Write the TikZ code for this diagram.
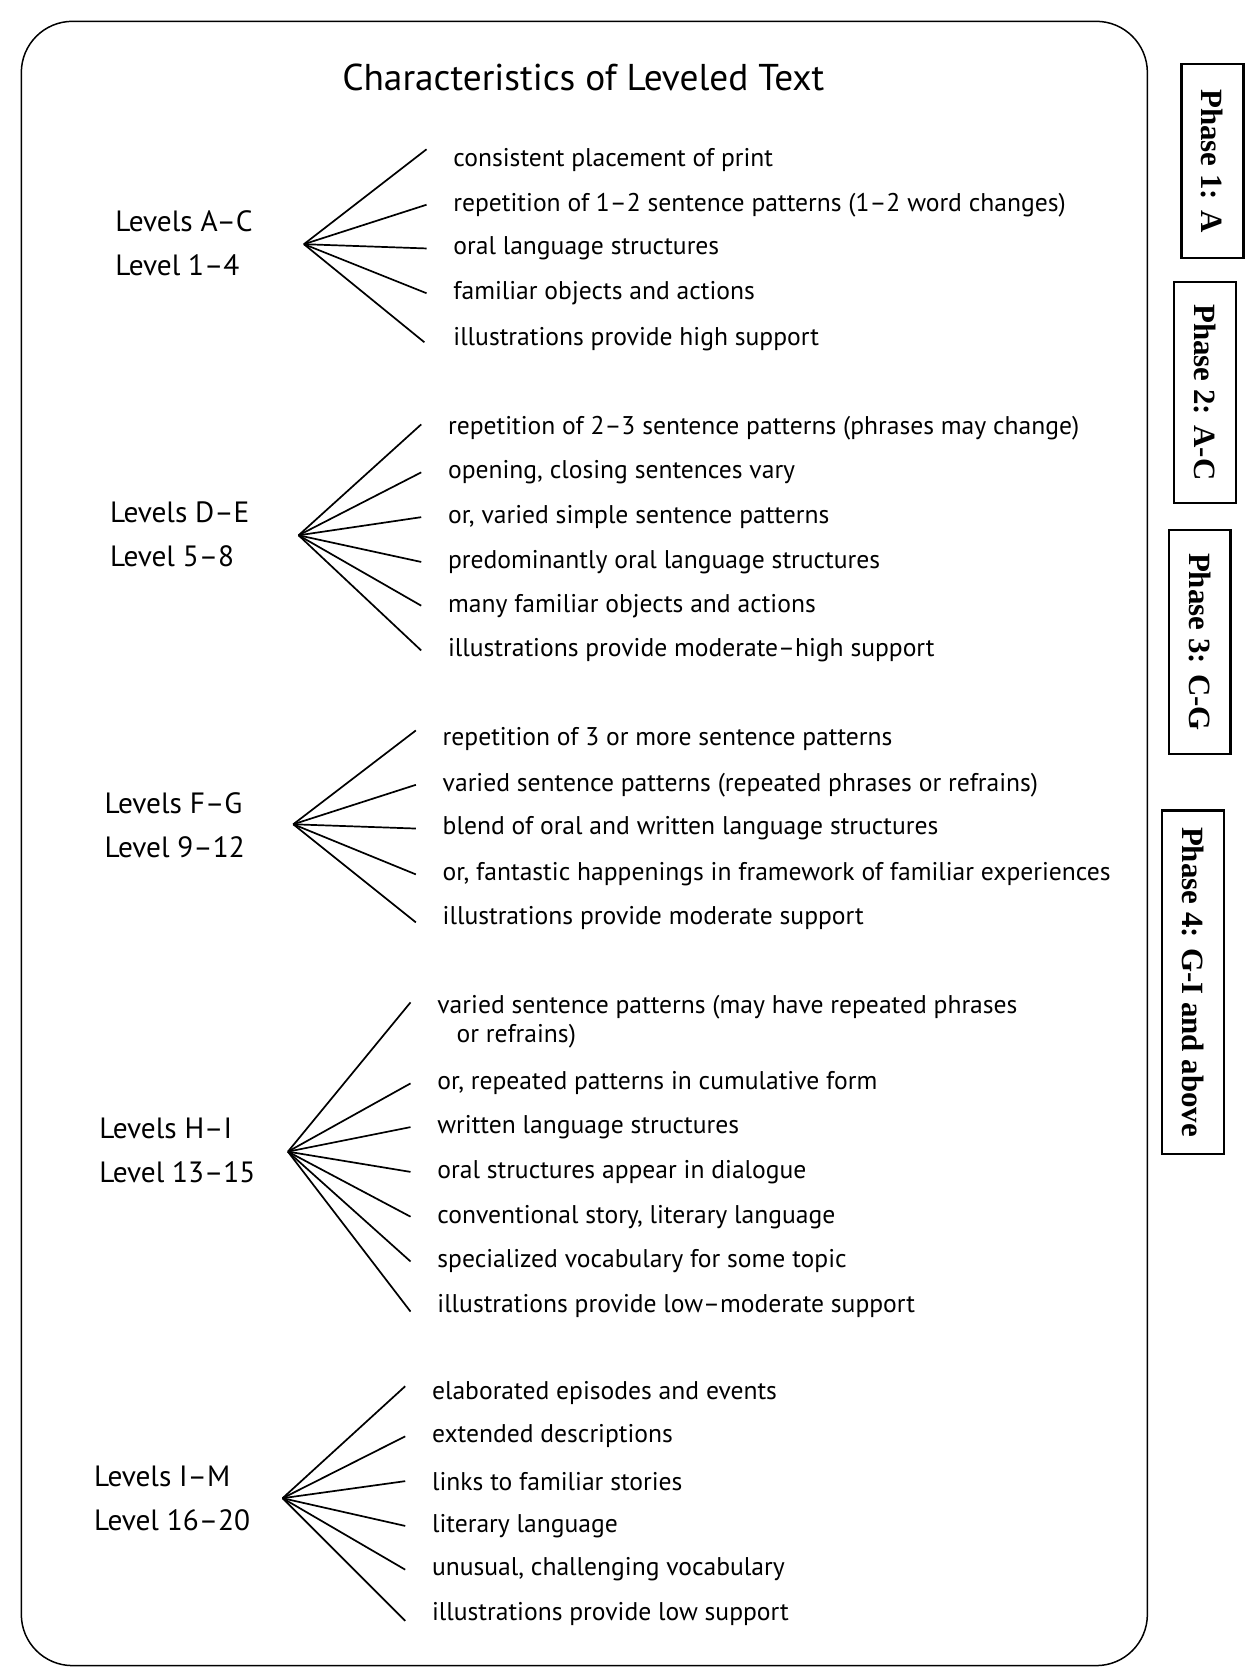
\documentclass[tikz,border=0pt]{standalone}
\usepackage{fontspec}
\setmainfont{PT Sans}
\newfontfamily\phasefont{Liberation Serif}
\usetikzlibrary{positioning}
\tikzset{
    item/.style={anchor=west,inner sep=0pt,font=\fontsize{24}{28}\selectfont},
    lvl/.style={anchor=west,inner sep=0pt,align=left,font=\fontsize{27.5}{41}\selectfont},
    fan/.style={line width=1.6pt},
    phase/.style={draw,line width=2.2pt,rotate=-90,inner sep=0pt,
        minimum height=58pt,font=\phasefont\bfseries\fontsize{29}{32}\selectfont}
}

\begin{document}
\begin{tikzpicture}[x=1pt,y=-1pt]
    \useasboundingbox (0,0) rectangle (1174,1568);
    \draw[line width=1.4pt,rounded corners=48pt] (20,20) rectangle (1076,1562);
    \node[font=\fontsize{35}{40}\selectfont] (title) at (547,73) {Characteristics of Leveled Text};

    % levels A-C
    \node[lvl] (la) at (108,228) {Levels A--C\\Level 1--4};
    \coordinate (va) at (285,229);
    \node[item] (a1) at (425,150) {consistent placement of print};
    \node[item] (a2) at (425,192) {repetition of 1--2 sentence patterns (1--2 word changes)};
    \node[item] (a3) at (425,233) {oral language structures};
    \node[item] (a4) at (425,275) {familiar objects and actions};
    \node[item] (a5) at (425,318) {illustrations provide high support};

    % levels D-E
    \node[lvl] (lb) at (103,501) {Levels D--E\\Level 5--8};
    \coordinate (vb) at (280,502);
    \node[item] (b1) at (420,402) {repetition of 2--3 sentence patterns (phrases may change)};
    \node[item] (b2) at (420,443) {opening, closing sentences vary};
    \node[item] (b3) at (420,485) {or, varied simple sentence patterns};
    \node[item] (b4) at (420,527) {predominantly oral language structures};
    \node[item] (b5) at (420,568) {many familiar objects and actions};
    \node[item] (b6) at (420,610) {illustrations provide moderate--high support};

    % levels F-G
    \node[lvl] (lc) at (98,774) {Levels F--G\\Level 9--12};
    \coordinate (vc) at (275,773);
    \node[item] (c1) at (415,693) {repetition of 3 or more sentence patterns};
    \node[item] (c2) at (415,736) {varied sentence patterns (repeated phrases or refrains)};
    \node[item] (c3) at (415,777) {blend of oral and written language structures};
    \node[item] (c4) at (415,820) {or, fantastic happenings in framework of familiar experiences};
    \node[item] (c5) at (415,861) {illustrations provide moderate support};

    % levels H-I
    \node[lvl] (ld) at (93,1079) {Levels H--I\\Level 13--15};
    \coordinate (vd) at (270,1080);
    \node[item] (d1) at (410,945) {varied sentence patterns (may have repeated phrases};
    \node[item] (d1x) at (428,972) {or refrains)};
    \node[item] (d2) at (410,1016) {or, repeated patterns in cumulative form};
    \node[item] (d3) at (410,1057) {written language structures};
    \node[item] (d4) at (410,1099) {oral structures appear in dialogue};
    \node[item] (d5) at (410,1141) {conventional story, literary language};
    \node[item] (d6) at (410,1183) {specialized vocabulary for some topic};
    \node[item] (d7) at (410,1225) {illustrations provide low--moderate support};

    % levels I-M
    \node[lvl] (le) at (88,1405) {Levels I--M\\Level 16--20};
    \coordinate (ve) at (265,1405);
    \node[item] (e1) at (405,1306) {elaborated episodes and events};
    \node[item] (e2) at (405,1347) {extended descriptions};
    \node[item] (e3) at (405,1389) {links to familiar stories};
    \node[item] (e4) at (405,1431) {literary language};
    \node[item] (e5) at (405,1472) {unusual, challenging vocabulary};
    \node[item] (e6) at (405,1514) {illustrations provide low support};

    \path[fan]
        (va) edge ([shift={(-25pt,10pt)}]a1.west)
        (va) edge ([xshift=-25pt]a2.west)
        (va) edge ([xshift=-25pt]a3.west)
        (va) edge ([xshift=-25pt]a4.west)
        (va) edge ([shift={(-27pt,-3pt)}]a5.west)
        (vb) edge ([shift={(-25pt,4pt)}]b1.west)
        (vb) edge ([xshift=-25pt]b2.west)
        (vb) edge ([xshift=-25pt]b3.west)
        (vb) edge ([xshift=-25pt]b4.west)
        (vb) edge ([xshift=-25pt]b5.west)
        (vb) edge ([xshift=-25pt]b6.west)
        (vc) edge ([shift={(-25pt,8pt)}]c1.west)
        (vc) edge ([xshift=-25pt]c2.west)
        (vc) edge ([xshift=-25pt]c3.west)
        (vc) edge ([xshift=-25pt]c4.west)
        (vc) edge ([shift={(-25pt,-4pt)}]c5.west)
        (vd) edge ([shift={(-25pt,5pt)}]d1.west)
        (vd) edge ([xshift=-25pt]d2.west)
        (vd) edge ([xshift=-25pt]d3.west)
        (vd) edge ([xshift=-25pt]d4.west)
        (vd) edge ([xshift=-25pt]d5.west)
        (vd) edge ([xshift=-25pt]d6.west)
        (vd) edge ([shift={(-25pt,-5pt)}]d7.west)
        (ve) edge ([shift={(-25pt,6pt)}]e1.west)
        (ve) edge ([xshift=-25pt]e2.west)
        (ve) edge ([xshift=-25pt]e3.west)
        (ve) edge ([xshift=-25pt]e4.west)
        (ve) edge ([xshift=-25pt]e5.west)
        (ve) edge ([shift={(-25pt,-6pt)}]e6.west)
    ;

    % phases
    \node[phase,minimum width=182pt] (p1) at (1137,151) {Phase 1: A};
    \node[phase,minimum width=207pt] (p2) at (1130,368) {Phase 2: A-C};
    \node[phase,minimum width=210pt] (p3) at (1125,602) {Phase 3: C-G};
    \node[phase,minimum width=322pt] (p4) at (1119,921) {Phase 4: G-I and above};
\end{tikzpicture}
\end{document}
